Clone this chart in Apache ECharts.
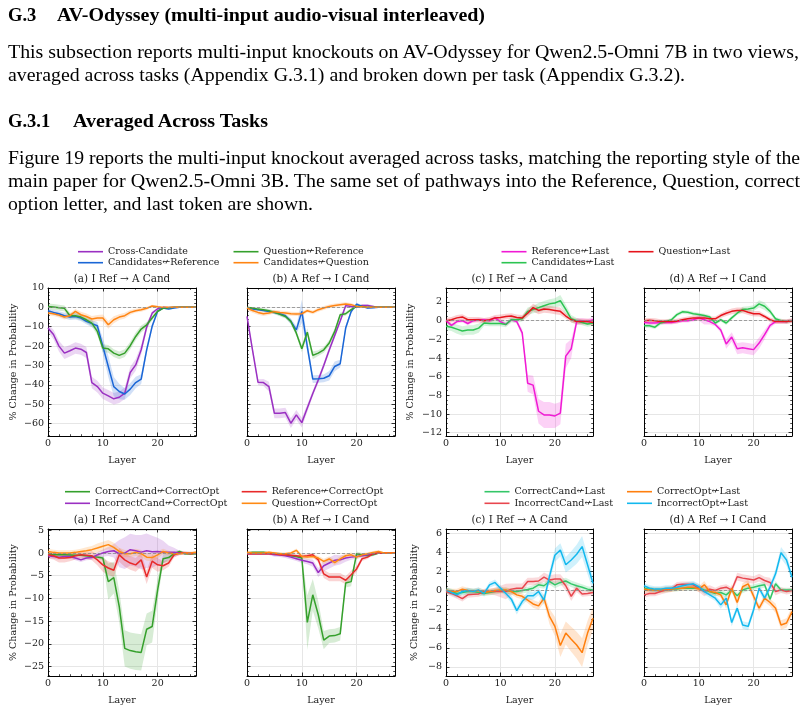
<!DOCTYPE html>
<html><head><meta charset="utf-8">
<script src="https://cdn.jsdelivr.net/npm/echarts@6/dist/echarts.min.js"></script>
<style>
html,body{margin:0;padding:0;background:#fff;}
#wrap{position:relative;width:807px;height:708px;overflow:hidden;background:#fff;}
#chart{position:absolute;left:0;top:0;width:807px;height:708px;}
.t{position:absolute;white-space:nowrap;font-family:"Liberation Serif","Times New Roman",serif;color:#000;transform-origin:0 50%;line-height:1;z-index:5;}
.b{font-weight:bold;}
</style></head><body>
<div id="wrap"><div id="chart"></div></div>
<script>
// ---------------- DATA ----------------
const layers = [0,1,2,3,4,5,6,7,8,9,10,11,12,13,14,15,16,17,18,19,20,21,22,23,24,25,26,27];
const xTickLabels = [0,10,20];
const panelTitles = ['(a) I Ref \u2192 A Cand','(b) A Ref \u2192 I Cand','(c) I Ref \u2192 A Cand','(d) A Ref \u2192 I Cand',
                     '(a) I Ref \u2192 A Cand','(b) A Ref \u2192 I Cand','(c) I Ref \u2192 A Cand','(d) A Ref \u2192 I Cand'];

// top row (a)
const a1_cross   = [-10.7,-14,-20,-23.6,-22.4,-21,-21.6,-23.3,-38.8,-40.9,-44.3,-45.7,-47.2,-46.4,-44.3,-33.6,-29.7,-21.9,-10.2,-3,-0.7,0,-0.2,0,0,0,0,0];
const a1_candRef = [-1.7,-2.6,-3.3,-4.3,-5,-4.7,-5.5,-7.2,-8.4,-9.5,-20,-30.5,-40.9,-43.4,-44.7,-42.2,-38.8,-37,-21.9,-9.8,-2,-0.3,-0.9,-0.3,0,0,0,0];
const a1_qRef    = [0.5,0.2,-0.2,-0.5,-4.3,-4.3,-5,-6.4,-8.1,-12.4,-21,-21.4,-23.6,-24.8,-23.6,-19.8,-15,-11.2,-9,-5.5,-2,-0.5,-0.2,0,0,0,0,0];
const a1_candQ   = [-2.9,-3.3,-4,-5,-4.3,-2.1,-3.8,-4.7,-6,-5.5,-5.5,-9,-6.4,-5,-4.3,-2.6,-1.7,-1.2,-0.5,0.7,0.3,0,0,0,0,0,0,0];
const a1_cross_ci   = [2.0,2.5,2.8,3.0,3.0,3.0,2.8,2.8,3.0,3.0,3.0,3.0,3.0,3.0,3.0,3.0,3.0,2.5,2.0,1.0,0.5,0.3,0.3,0.2,0.2,0.2,0.2,0.2];
const a1_candRef_ci = [1.0,1.2,1.3,1.5,1.5,1.5,1.5,1.5,1.8,2.0,4.0,5.5,5.0,4.0,3.0,3.0,3.0,2.5,2.0,1.5,0.8,0.4,0.4,0.3,0.2,0.2,0.2,0.2];
const a1_qRef_ci    = [1.5,1.5,1.5,1.5,1.5,1.5,1.5,1.5,1.8,2.0,2.0,2.0,2.0,2.0,2.0,2.0,2.0,1.8,1.5,1.2,0.8,0.4,0.3,0.2,0.2,0.2,0.2,0.2];
const a1_candQ_ci   = [1.2,1.2,1.2,1.2,1.2,1.2,1.5,1.5,1.5,1.5,1.8,2.0,1.8,1.5,1.5,1.2,1.0,1.0,0.8,0.6,0.5,0.4,0.3,0.2,0.2,0.2,0.2,0.2];

// top row (b)
const b1_cross   = [-4.7,-21.9,-38.6,-38.8,-40.9,-54.7,-54.7,-54.3,-59.8,-55.5,-59.5,-52,-44.5,-37.5,-30,-22,-14.5,-7,0.9,0.5,0.2,1,1,0.5,0,0,0,0];
const b1_candRef = [-0.3,-0.9,-1.2,-1.6,-2.1,-2.6,-3.3,-4.3,-7.2,-11.6,-2.1,-20.2,-37,-36.9,-36.6,-35.3,-30.5,-29.1,-10.7,-2.1,1.7,0.5,-0.3,-0.2,0,0,0,0];
const b1_qRef    = [0,-0.3,-0.9,-1.2,-1.7,-2.6,-3.6,-4.7,-7.2,-13.3,-21.4,-12.8,-24.8,-23.6,-21.9,-18.4,-12.4,-3.8,-3.3,-1.2,0.5,0.5,0,0,0,0,0,0];
const b1_candQ   = [-0.3,-1.6,-2.6,-3.3,-2.9,-2.2,-2.6,-2.9,-3.3,-3.4,-3.3,-1.7,-2.6,-1.2,-0.3,0.5,1,1.4,1.7,1.4,0.5,0.3,0,0,0,0,0,0];
const b1_cross_ci   = [1.0,1.5,1.5,1.8,2.5,2.5,2.5,2.5,2.5,2.5,2.5,2.0,1.5,1.5,1.5,1.5,1.5,1.2,1.0,0.8,0.6,0.8,0.8,0.5,0.3,0.2,0.2,0.2];
const b1_candRef_ci = [0.5,0.5,0.6,0.6,0.8,0.8,1.0,1.0,1.5,2.0,6.0,3.0,2.0,2.0,2.0,2.5,2.5,2.0,1.5,1.0,0.8,0.5,0.5,0.3,0.2,0.2,0.2,0.2];
const b1_qRef_ci    = [0.5,0.5,0.6,0.8,0.8,1.0,1.0,1.0,1.2,1.5,1.8,2.0,2.0,1.5,1.5,1.5,1.5,1.2,1.0,0.8,0.5,0.4,0.3,0.2,0.2,0.2,0.2,0.2];
const b1_candQ_ci   = [1.2,1.2,1.2,1.2,1.0,1.0,1.0,1.0,1.0,1.0,1.0,1.0,1.0,1.0,1.0,1.0,1.0,1.0,1.0,0.8,0.6,0.5,0.4,0.3,0.2,0.2,0.2,0.2];

// top row (c)
const c1_ref  = [0,-0.5,-0.1,0,-0.3,0,0.1,0.1,0,0.3,-0.1,-0.4,0.1,-0.1,-1.3,-6.7,-6.9,-9.7,-10.1,-10.1,-10.2,-9.9,-3.8,-3,-0.1,0,-0.1,0.1];
const c1_cand = [-0.6,-0.7,-0.9,-1.1,-1.0,-1.0,-0.8,-0.25,-0.3,-0.3,-0.3,-0.4,0.1,0.1,0.2,1.0,1.2,1.4,1.6,1.8,1.9,2.15,1.2,0.2,0,-0.2,-0.35,-0.25];
const c1_q    = [0,0.1,0.3,0.4,0.1,0.1,0.1,0,0.1,0.3,0.35,0.45,0.5,0.35,0.3,0.8,1.4,1.1,1.25,1.2,1.1,1.0,0.5,0.1,-0.1,-0.1,-0.1,-0.2];
const c1_ref_ci  = [0.2,0.2,0.2,0.2,0.2,0.2,0.2,0.2,0.2,0.2,0.2,0.2,0.2,0.2,0.4,0.9,1.0,1.3,1.4,1.4,1.3,1.2,1.3,1.0,0.4,0.3,0.3,0.3];
const c1_cand_ci = [0.4,0.4,0.5,0.5,0.5,0.5,0.5,0.3,0.3,0.3,0.3,0.3,0.3,0.3,0.3,0.4,0.4,0.5,0.5,0.5,0.5,0.6,0.5,0.4,0.3,0.3,0.3,0.3];
const c1_q_ci    = [0.3,0.3,0.3,0.3,0.3,0.3,0.3,0.3,0.3,0.3,0.3,0.3,0.3,0.3,0.3,0.4,0.4,0.4,0.4,0.4,0.4,0.4,0.3,0.3,0.3,0.3,0.3,0.3];

// top row (d)
const d1_ref  = [-0.2,-0.25,-0.25,-0.2,-0.2,-0.2,-0.1,0,0,0.1,0.3,0.1,-0.1,-0.4,-1,-2.5,-1.75,-3.0,-2.9,-3.0,-3.1,-2.4,-1.5,-0.5,-0.1,-0.1,-0.1,0];
const d1_cand = [-0.55,-0.55,-0.7,-0.25,-0.1,0.1,0.65,0.95,0.9,0.75,0.65,0.55,0.4,-0.25,0.1,-0.25,0.3,0.8,1.2,1.25,1.35,1.8,1.55,1.0,0.2,0,-0.1,0];
const d1_q    = [0,0.05,0,-0.1,-0.1,-0.1,-0.05,0.1,0.2,0.3,0.3,0.3,0.2,0.2,0.55,0.8,1.0,1.1,1.1,0.9,0.75,0.75,0.45,0.1,-0.1,-0.1,-0.1,0];
const d1_ref_ci  = [0.2,0.2,0.2,0.2,0.2,0.2,0.2,0.2,0.2,0.2,0.3,0.5,0.3,0.2,0.3,0.5,0.5,0.6,0.6,0.6,0.6,0.6,0.5,0.3,0.2,0.2,0.2,0.2];
const d1_cand_ci = [0.2,0.2,0.2,0.2,0.2,0.2,0.2,0.2,0.2,0.2,0.2,0.2,0.2,0.2,0.2,0.2,0.2,0.2,0.3,0.3,0.3,0.4,0.4,0.3,0.2,0.2,0.2,0.2];
const d1_q_ci    = [0.25,0.25,0.25,0.25,0.25,0.25,0.25,0.25,0.25,0.25,0.25,0.25,0.25,0.25,0.25,0.3,0.3,0.3,0.3,0.3,0.3,0.3,0.25,0.25,0.25,0.25,0.25,0.25];

// bottom row (a)
const a2_cc = [-0.15,-0.4,-0.4,-0.4,-0.45,-0.5,-0.5,-0.6,-0.75,-0.9,-1.1,-6.3,-5.4,-11.8,-21,-21.5,-21.75,-21.9,-16.8,-16.2,-8.1,-1.25,-1,-0.15,0.35,-0.15,-0.15,-0.15];
const a2_ic = [-0.6,-0.75,-0.9,-0.75,-0.75,-1.1,-1.5,-1.1,-1.0,-0.4,0,0.35,0.5,-0.15,0,0.75,0.5,0.2,0.5,0.3,0.35,0.2,0.15,0.15,0,0,0,0];
const a2_r  = [-0.4,-0.6,-1.1,-1.1,-1.0,-0.6,-0.4,-0.5,-0.6,-1.5,-2.6,-3.3,-3.8,-0.4,-1.5,-2.2,-2.6,-1.5,-5.3,-1.8,-2.6,-2.8,-2.2,-0.4,0,0,-0.15,0];
const a2_q  = [0.35,0.15,0,0,0,0.15,0.35,0.5,0.75,1.1,1.5,1.85,1.25,0.35,-0.15,-0.15,0.15,-0.15,-0.9,-1.0,-0.4,0.35,0,-0.15,-0.15,0,0,0.15];
const a2_cc_ci = [0.3,0.3,0.3,0.3,0.3,0.3,0.3,0.3,0.3,0.4,0.5,4.0,3.5,3.5,4.0,4.0,4.0,4.0,3.5,3.5,2.5,1.0,0.8,0.5,0.3,0.3,0.3,0.3];
const a2_ic_ci = [0.5,0.5,0.5,0.5,0.5,0.5,0.5,0.5,0.5,0.6,0.8,1.0,1.5,3.0,3.5,3.5,3.5,3.8,3.8,3.5,3.0,2.5,1.5,1.0,0.5,0.4,0.3,0.3];
const a2_r_ci  = [0.8,0.8,1.0,1.0,0.8,0.8,0.8,0.8,1.0,1.2,1.5,1.5,1.5,1.5,1.5,1.5,1.5,1.5,1.5,1.5,1.5,1.0,0.8,0.6,0.4,0.3,0.3,0.3];
const a2_q_ci  = [0.6,0.6,0.6,0.6,0.6,0.6,0.6,0.8,0.8,1.0,1.0,1.0,1.0,0.8,0.8,0.8,0.8,0.8,0.8,0.8,0.8,0.6,0.5,0.4,0.3,0.3,0.3,0.3];

// bottom row (b)
const b2_cc = [0,0.15,0.15,0.2,0,-0.15,-0.2,-0.4,-0.6,-0.75,-1.1,-15.3,-9.2,-13.6,-19.2,-18.3,-18.2,-17.8,-6.6,-6.3,-0.15,-0.4,-0.6,-0.4,0,0,0,0];
const b2_ic = [-0.15,-0.15,-0.15,-0.15,-0.15,-0.4,-0.45,-0.6,-0.9,-1.25,-1.6,-1.85,-2.2,-4.3,-2.8,-2.2,-1.6,-1.5,-1.1,-0.9,-0.75,-0.6,-0.4,-0.15,0,0,0,0];
const b2_r  = [-0.15,-0.15,-0.15,-0.15,-0.15,-0.15,-0.4,-0.4,-0.5,-0.6,-0.75,-0.6,-0.4,-1.5,-4.6,-5.3,-5.3,-5.3,-6.0,-4.8,-3.5,-1.25,-0.9,-0.15,0,0,0,0];
const b2_q  = [0.15,0,0,0,0.15,0,-0.15,-0.15,0,0.6,-0.75,-0.9,-0.75,-1.1,-1.85,-1.3,-2.1,-1.3,-0.6,-0.4,-0.9,-0.4,-0.15,0.15,0.35,0,0,0];
const b2_cc_ci = [0.2,0.2,0.2,0.2,0.2,0.3,0.3,0.3,0.3,0.4,0.5,6.0,3.5,3.0,2.0,1.5,1.5,1.5,1.0,1.0,0.5,0.4,0.3,0.3,0.2,0.2,0.2,0.2];
const b2_ic_ci = [0.3,0.3,0.3,0.3,0.3,0.4,0.4,0.5,0.5,0.5,0.6,0.6,0.8,1.0,1.2,1.2,1.2,1.0,0.8,0.6,0.5,0.4,0.3,0.3,0.2,0.2,0.2,0.2];
const b2_r_ci  = [0.3,0.3,0.3,0.3,0.3,0.3,0.3,0.3,0.3,0.3,0.4,0.4,0.4,0.6,0.9,0.9,0.9,0.9,0.9,0.9,0.7,0.5,0.4,0.3,0.2,0.2,0.2,0.2];
const b2_q_ci  = [0.4,0.3,0.3,0.3,0.3,0.3,0.3,0.3,0.3,0.4,0.5,0.5,0.5,0.5,0.6,0.6,0.6,0.6,0.5,0.5,0.5,0.4,0.3,0.3,0.3,0.2,0.2,0.2];

// bottom row (c)
const c2_cc = [0,-0.1,-0.3,-0.2,-0.1,-0.1,-0.2,-0.3,-0.2,-0.1,0,0,-0.1,-0.1,0,0.1,0.25,0.6,0.5,0.95,0.6,0.85,1.0,0.7,0.5,0.35,0.15,0.05];
const c2_ic = [-0.1,-0.3,-0.55,-0.85,-0.45,-0.4,-0.35,-0.1,-0.1,-0.1,-0.1,-0.1,0.15,0.25,0.25,0.95,0.95,1.0,1.4,1.1,1.2,1.2,0.5,-0.6,0.25,-0.35,-0.3,-0.2];
const c2_co = [0.05,-0.1,-0.1,0.15,0,-0.1,0,-0.2,-0.1,0,0.05,0.05,-0.1,-0.45,-0.6,-1.0,-1.4,-1.6,-0.8,-2.7,-3.75,-5.75,-4.45,-5.1,-5.7,-6.5,-4.45,-2.9];
const c2_io = [0.05,-0.2,-0.45,-0.1,0,-0.1,0.05,-0.3,0.6,0.85,0.25,-0.3,-0.9,-2.1,-1.15,-0.55,-0.55,-0.1,-1.0,1.45,3.7,4.25,2.7,3.2,3.8,4.6,2.7,0.75];
const c2_cc_ci = [0.3,0.3,0.3,0.3,0.3,0.3,0.3,0.3,0.3,0.3,0.3,0.3,0.3,0.3,0.3,0.3,0.3,0.3,0.3,0.35,0.35,0.35,0.35,0.35,0.35,0.3,0.3,0.3];
const c2_ic_ci = [0.3,0.3,0.3,0.3,0.3,0.3,0.3,0.3,0.3,0.4,0.6,0.8,0.6,0.5,0.5,0.4,0.4,0.4,0.5,0.5,0.5,0.5,0.5,0.5,0.4,0.3,0.3,0.3];
const c2_co_ci = [0.3,0.3,0.3,0.3,0.3,0.3,0.3,0.3,0.3,0.3,0.3,0.3,0.3,0.3,0.3,0.3,0.4,0.4,0.5,0.8,1.0,1.2,1.2,1.3,1.4,1.5,1.3,1.2];
const c2_io_ci = [0.3,0.3,0.3,0.3,0.3,0.3,0.3,0.3,0.3,0.3,0.3,0.3,0.4,0.4,0.4,0.4,0.4,0.4,0.5,0.6,0.7,0.7,0.8,0.9,1.0,1.1,1.0,0.8];

// bottom row (d)
const d2_cc = [0.25,0.15,0.05,0.05,0.05,0.15,0.15,0.25,0.25,0.25,0.25,0.05,-0.1,-0.3,-0.2,-0.45,0.05,-0.55,0.05,0.25,0.35,0.5,0.6,-0.9,0.7,0.05,0.05,0.05];
const d2_ic = [-0.45,-0.3,-0.3,-0.1,0.05,0.15,0.6,0.65,0.65,0.6,0.25,-0.1,0.15,0,0.25,0.35,0.05,1.45,1.3,1.2,1.1,1.35,1.05,0.85,-0.1,0.05,-0.1,0];
const d2_co = [0.15,0.05,0.05,0.05,0.15,0.15,0.25,0.25,0.35,0.35,0.15,0.6,-0.1,-0.2,-0.45,-1.5,0.25,-1.25,0.4,0.7,-0.6,-1.85,-0.8,-1.25,-1.85,-3.6,-3.4,-2.2];
const d2_io = [0.5,0.25,0.15,0.15,0.25,0.25,0.35,0.5,0.6,0.7,0.4,-0.1,-0.45,-0.8,-1.5,-0.8,-3.35,-1.85,-3.6,-3.75,-2.0,0.25,-0.8,0.35,1.75,3.95,3.2,1.4];
const d2_cc_ci = [0.25,0.25,0.25,0.25,0.25,0.25,0.25,0.25,0.25,0.25,0.25,0.3,0.3,0.3,0.3,0.3,0.3,0.3,0.3,0.3,0.3,0.3,0.3,0.3,0.3,0.25,0.25,0.25];
const d2_ic_ci = [0.3,0.3,0.3,0.3,0.3,0.3,0.3,0.3,0.3,0.3,0.4,0.5,0.4,0.3,0.3,0.3,0.3,0.4,0.4,0.4,0.4,0.4,0.4,0.5,0.4,0.3,0.3,0.3];
const d2_co_ci = [0.3,0.3,0.3,0.3,0.3,0.3,0.3,0.3,0.3,0.3,0.3,0.4,0.3,0.3,0.3,0.4,0.4,0.4,0.4,0.4,0.4,0.4,0.4,0.4,0.5,0.5,0.5,0.5];
const d2_io_ci = [0.3,0.3,0.3,0.3,0.3,0.3,0.3,0.3,0.3,0.3,0.3,0.3,0.3,0.3,0.4,0.4,0.4,0.4,0.4,0.4,0.4,0.4,0.4,0.4,0.5,0.6,0.6,0.5];

// ---------------- STYLE ----------------
const C = {
  purple:'#9a30c2', blue:'#1a66d6', green:'#35a02c', orange:'#ff8412',
  magenta:'#f01ad4', lgreen:'#2cc452', red:'#e6141c',
  red2:'#e82a2a', orange2:'#ff8a14', green3:'#34c668', salmon:'#e8464e', orange3:'#ff7f0e', cyan:'#12b8ee'
};
const SERIF = 'DejaVu Serif';
const lbl = {fontFamily:SERIF, fontSize:9.5, color:'#1a1a1a'};

const yTop1 = {min:-66.4, max:10, iv:10, minor:5};
const yTop2 = {min:-12.35, max:3.5, iv:2, minor:4};
const yBot1 = {min:-27.1, max:5.3, iv:5, minor:5};
const yBot2 = {min:-8.94, max:6.44, iv:2, minor:4};

const panels = [
  {g:{left:48, top:288, width:148, height:148}, y:yTop1, showY:true, nameGap:29,
   s:[['Cross-Candidate',a1_cross,a1_cross_ci,C.purple],['Candidates\u219AReference',a1_candRef,a1_candRef_ci,C.blue],['Question\u219AReference',a1_qRef,a1_qRef_ci,C.green],['Candidates\u219AQuestion',a1_candQ,a1_candQ_ci,C.orange]]},
  {g:{left:247, top:288, width:148, height:148}, y:yTop1, showY:false,
   s:[['Cross-Candidate',b1_cross,b1_cross_ci,C.purple],['Candidates\u219AReference',b1_candRef,b1_candRef_ci,C.blue],['Question\u219AReference',b1_qRef,b1_qRef_ci,C.green],['Candidates\u219AQuestion',b1_candQ,b1_candQ_ci,C.orange]]},
  {g:{left:446, top:288, width:147, height:148}, y:yTop2, showY:true, nameGap:30,
   s:[['Reference\u219ALast',c1_ref,c1_ref_ci,C.magenta],['Candidates\u219ALast',c1_cand,c1_cand_ci,C.lgreen],['Question\u219ALast',c1_q,c1_q_ci,C.red]]},
  {g:{left:644, top:288, width:148, height:148}, y:yTop2, showY:false,
   s:[['Reference\u219ALast',d1_ref,d1_ref_ci,C.magenta],['Candidates\u219ALast',d1_cand,d1_cand_ci,C.lgreen],['Question\u219ALast',d1_q,d1_q_ci,C.red]]},
  {g:{left:48, top:529, width:148, height:147}, y:yBot1, showY:true, nameGap:29,
   s:[['CorrectCand\u219ACorrectOpt',a2_cc,a2_cc_ci,C.green],['IncorrectCand\u219ACorrectOpt',a2_ic,a2_ic_ci,C.purple],['Reference\u219ACorrectOpt',a2_r,a2_r_ci,C.red2],['Question\u219ACorrectOpt',a2_q,a2_q_ci,C.orange2]]},
  {g:{left:247, top:529, width:148, height:147}, y:yBot1, showY:false,
   s:[['CorrectCand\u219ACorrectOpt',b2_cc,b2_cc_ci,C.green],['IncorrectCand\u219ACorrectOpt',b2_ic,b2_ic_ci,C.purple],['Reference\u219ACorrectOpt',b2_r,b2_r_ci,C.red2],['Question\u219ACorrectOpt',b2_q,b2_q_ci,C.orange2]]},
  {g:{left:446, top:529, width:147, height:147}, y:yBot2, showY:true, nameGap:26,
   s:[['CorrectCand\u219ALast',c2_cc,c2_cc_ci,C.green3],['IncorrectCand\u219ALast',c2_ic,c2_ic_ci,C.salmon],['CorrectOpt\u219ALast',c2_co,c2_co_ci,C.orange3],['IncorrectOpt\u219ALast',c2_io,c2_io_ci,C.cyan]]},
  {g:{left:644, top:529, width:148, height:147}, y:yBot2, showY:false,
   s:[['CorrectCand\u219ALast',d2_cc,d2_cc_ci,C.green3],['IncorrectCand\u219ALast',d2_ic,d2_ic_ci,C.salmon],['CorrectOpt\u219ALast',d2_co,d2_co_ci,C.orange3],['IncorrectOpt\u219ALast',d2_io,d2_io_ci,C.cyan]]}
];

const legendPos = [
  ['Cross-Candidate',78,251.7],['Candidates\u219AReference',78,262.7],['Question\u219AReference',233.5,251.7],['Candidates\u219AQuestion',233.5,262.7],
  ['Reference\u219ALast',501.5,251.7],['Candidates\u219ALast',501.5,262.7],['Question\u219ALast',628.5,251.7],
  ['CorrectCand\u219ACorrectOpt',65,491.7],['IncorrectCand\u219ACorrectOpt',65,503.3],['Reference\u219ACorrectOpt',241.7,491.7],['Question\u219ACorrectOpt',241.7,503.3],
  ['CorrectCand\u219ALast',484.5,491.7],['IncorrectCand\u219ALast',484.5,503.3],['CorrectOpt\u219ALast',627,491.7],['IncorrectOpt\u219ALast',627,503.3]
];

function fmt(iv){
  return function(v){
    const k = v/iv;
    if (Math.abs(k-Math.round(k)) > 1e-6) return '';
    const r = Math.round(k)*iv;
    return r < 0 ? '\u2212'+Math.abs(r) : String(r);
  };
}

const AX = '#000';
const option = {
  animation:false, backgroundColor:'#fff',
  textStyle:{fontFamily:SERIF},
  grid:[], xAxis:[], yAxis:[], series:[], legend:[], graphic:[]
};

panels.forEach((p, gi) => {
  option.grid.push(Object.assign({}, p.g));
  const tickBase = {show:true, inside:true, length:3.5, lineStyle:{color:AX, width:0.8}};
  const lineBase = {show:true, onZero:false, lineStyle:{color:AX, width:1}};
  option.xAxis.push({
    type:'value', gridIndex:gi, position:'bottom', min:0, max:27, minInterval:10, maxInterval:10,
    axisLine:lineBase, axisTick:tickBase,
    minorTick:{show:true, splitNumber:5, length:1.8, lineStyle:{color:AX, width:0.7}},
    axisLabel:Object.assign({show:true, margin:3, formatter:fmt(10), showMinLabel:true, showMaxLabel:true}, lbl),
    splitLine:{show:true, lineStyle:{color:'#e6e6e6', width:1}},
    name:'Layer', nameLocation:'middle', nameGap:20, nameTextStyle:Object.assign({}, lbl)
  });
  option.xAxis.push({
    type:'value', gridIndex:gi, position:'top', min:0, max:27, minInterval:10, maxInterval:10,
    axisLine:lineBase, axisTick:tickBase,
    minorTick:{show:true, splitNumber:5, length:1.8, lineStyle:{color:AX, width:0.7}},
    axisLabel:{show:false}, splitLine:{show:false}
  });
  const y = p.y;
  option.yAxis.push({
    type:'value', gridIndex:gi, position:'left', min:y.min, max:y.max, minInterval:y.iv, maxInterval:y.iv,
    axisLine:lineBase, axisTick:tickBase,
    minorTick:{show:true, splitNumber:y.minor, length:1.8, lineStyle:{color:AX, width:0.7}},
    axisLabel:Object.assign({show:p.showY, margin:4, formatter:fmt(y.iv), showMinLabel:true, showMaxLabel:true}, lbl),
    splitLine:{show:true, lineStyle:{color:'#e6e6e6', width:1}},
    name:p.showY ? '% Change in Probability' : '', nameLocation:'middle', nameGap:p.nameGap || 29,
    nameTextStyle:Object.assign({}, lbl)
  });
  option.yAxis.push({
    type:'value', gridIndex:gi, position:'right', min:y.min, max:y.max, minInterval:y.iv, maxInterval:y.iv,
    axisLine:lineBase, axisTick:tickBase,
    minorTick:{show:true, splitNumber:y.minor, length:1.8, lineStyle:{color:AX, width:0.7}},
    axisLabel:{show:false}, splitLine:{show:false}
  });

  p.s.forEach(([name, vals, ci, color]) => {
    option.series.push({
      type:'custom', xAxisIndex:2*gi, yAxisIndex:2*gi, silent:true, clip:true, z:1,
      data: layers.map((x,i)=>[x, vals[i]-ci[i], vals[i]+ci[i]]),
      encode:{x:0, y:[1,2]},
      renderItem:function(params, api){
        if (params.dataIndex !== 0) return null;
        const pts = [];
        for (let i=0;i<layers.length;i++) pts.push(api.coord([layers[i], vals[i]+ci[i]]));
        for (let i=layers.length-1;i>=0;i--) pts.push(api.coord([layers[i], vals[i]-ci[i]]));
        return {type:'polygon', shape:{points:pts}, style:{fill:color, opacity:0.2}};
      }
    });
  });
  p.s.forEach(([name, vals, ci, color], k) => {
    const s = {
      type:'line', name:name, xAxisIndex:2*gi, yAxisIndex:2*gi, silent:true, z:3,
      data: layers.map((x,i)=>[x, vals[i]]),
      showSymbol:false, symbol:'none', color:color,
      lineStyle:{color:color, width:1.5}
    };
    if (k === 0) {
      s.markLine = {silent:true, symbol:'none', label:{show:false}, animation:false,
        lineStyle:{color:'#8a8a8a', type:[3,2], width:0.8}, data:[{yAxis:0}]};
    }
    option.series.push(s);
  });
  option.graphic.push({
    type:'text', x:p.g.left + p.g.width/2, y:p.g.top - 8.5,
    style:{text:panelTitles[gi], align:'center', verticalAlign:'middle', fontFamily:SERIF, fontSize:10.4, fill:'#1a1a1a'}
  });
});

legendPos.forEach(([name, x, y]) => {
  option.legend.push({
    show:true, left:x, top:y-6, orient:'horizontal', padding:0, itemGap:0,
    itemWidth:25, itemHeight:1.6, icon:'rect', selectedMode:false, data:[name],
    textStyle:{fontFamily:SERIF, fontSize:9.5, color:'#1a1a1a', lineHeight:12}
  });
});

const chart = echarts.init(document.getElementById('chart'), null, {renderer:'canvas'});
chart.setOption(option);

// ---------------- PAGE TEXT ----------------
const textLines = [
  {t:'G.3', x:8, y:16, w:null, fs:18.5, b:true},
  {t:'AV-Odyssey (multi-input audio-visual interleaved)', x:57, y:16, w:428, fs:18.5, b:true},
  {t:'This subsection reports multi-input knockouts on AV-Odyssey for Qwen2.5-Omni 7B in two views,', x:8, y:52, w:791, fs:19},
  {t:'averaged across tasks (Appendix G.3.1) and broken down per task (Appendix G.3.2).', x:8, y:75, w:677, fs:19},
  {t:'G.3.1', x:8, y:122, w:null, fs:18.5, b:true},
  {t:'Averaged Across Tasks', x:73, y:122, w:195, fs:18.5, b:true},
  {t:'Figure 19 reports the multi-input knockout averaged across tasks, matching the reporting style of the', x:8, y:158, w:792, fs:19},
  {t:'main paper for Qwen2.5-Omni 3B. The same set of pathways into the Reference, Question, correct', x:8, y:181, w:792, fs:19},
  {t:'option letter, and last token are shown.', x:8, y:204, w:305, fs:19}
];
const wrap = document.getElementById('wrap');
textLines.forEach(L => {
  const d = document.createElement('div');
  d.className = 't' + (L.b ? ' b' : '');
  d.textContent = L.t;
  d.style.fontSize = L.fs + 'px';
  d.style.left = L.x + 'px';
  d.style.top = (L.y - L.fs*0.55) + 'px';
  wrap.appendChild(d);
  if (L.w) {
    const mw = d.getBoundingClientRect().width;
    d.style.transform = 'scaleX(' + (L.w/mw) + ')';
  }
});
</script>
</body></html>
